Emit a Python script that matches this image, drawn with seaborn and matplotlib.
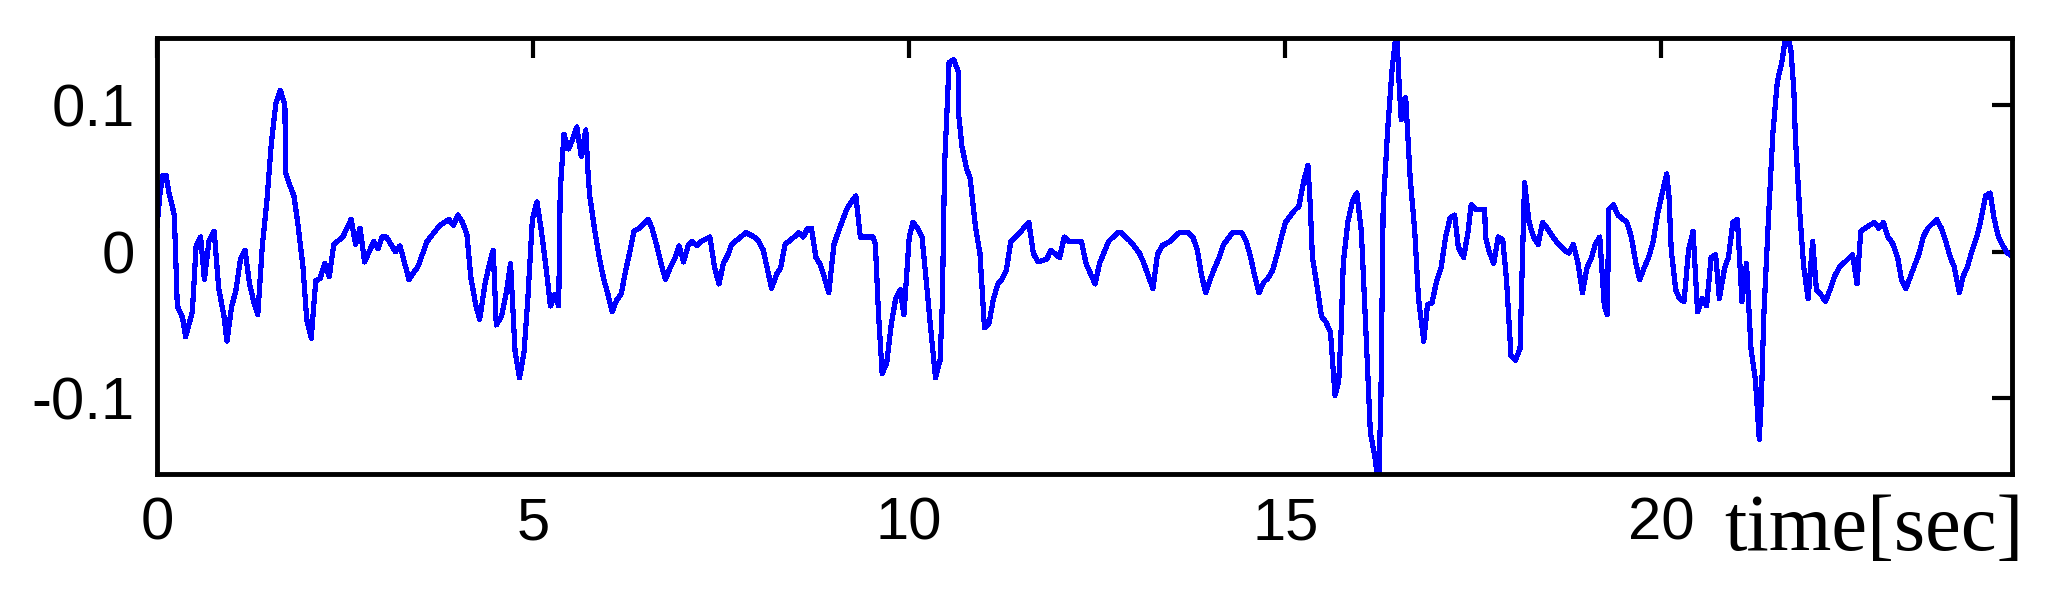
import numpy as np
import pandas as pd
import matplotlib
matplotlib.use("Agg")
import matplotlib.pyplot as plt
import seaborn as sns

# ── Data (time [s], value) ─────────────────────────────────────────────────
t_seg1 = [0.00, 0.04, 0.08, 0.12, 0.16, 0.23, 0.27, 0.34, 0.38, 0.47,
          0.52, 0.58, 0.63, 0.69, 0.76, 0.82, 0.89, 0.93, 0.99, 1.05,
          1.11, 1.17, 1.23, 1.29, 1.34, 1.40, 1.46, 1.52, 1.58, 1.64,
          1.70, 1.71, 1.76, 1.82, 1.87, 1.94, 1.99, 2.05, 2.11, 2.17,
          2.23, 2.29, 2.35, 2.47, 2.58, 2.64, 2.70, 2.76, 2.88, 2.94,
          2.99, 3.05, 3.17, 3.23, 3.35, 3.47, 3.59, 3.76, 3.88, 3.94,
          4.00, 4.06, 4.12, 4.17, 4.24]
v_seg1 = [0.017, 0.040, 0.052, 0.052, 0.040, 0.025, -0.037, -0.045, -0.058, -0.041,
          0.004, 0.010, -0.019, 0.007, 0.014, -0.025, -0.044, -0.061, -0.038, -0.026,
          -0.005, 0.001, -0.022, -0.035, -0.043, 0.004, 0.034, 0.074, 0.101, 0.110,
          0.100, 0.054, 0.046, 0.038, 0.020, -0.010, -0.046, -0.059, -0.020, -0.018,
          -0.008, -0.017, 0.005, 0.010, 0.022, 0.005, 0.016, -0.007, 0.007, 0.002,
          0.010, 0.010, 0.000, 0.004, -0.019, -0.010, 0.007, 0.018, 0.022, 0.018,
          0.025, 0.020, 0.012, -0.017, -0.037]

t_seg2 = [4.29, 4.36, 4.42, 4.47, 4.51, 4.58, 4.65, 4.70, 4.76, 4.82,
          4.88, 4.93, 4.99, 5.05, 5.11, 5.17, 5.23, 5.29, 5.34, 5.36,
          5.41, 5.47, 5.52, 5.58, 5.64, 5.70, 5.73, 5.75, 5.82, 5.88,
          5.94, 5.99, 6.05, 6.11, 6.17, 6.23, 6.29, 6.34, 6.41, 6.53,
          6.58, 6.64, 6.70, 6.76, 6.82, 6.88, 6.94, 7.00, 7.06, 7.11,
          7.18, 7.23, 7.35, 7.41, 7.47, 7.53, 7.59, 7.64, 7.76, 7.83,
          7.94, 8.00, 8.06, 8.12, 8.17, 8.24, 8.29, 8.35, 8.47, 8.53,
          8.59, 8.65]
v_seg2 = [-0.046, -0.022, -0.008, 0.001, -0.050, -0.044, -0.026, -0.008, -0.068, -0.086,
          -0.068, -0.032, 0.022, 0.034, 0.014, -0.010, -0.037, -0.029, -0.037, 0.041,
          0.080, 0.070, 0.076, 0.085, 0.065, 0.083, 0.054, 0.039, 0.014, -0.004,
          -0.019, -0.028, -0.041, -0.033, -0.029, -0.013, 0.001, 0.014, 0.016, 0.022,
          0.016, 0.005, -0.008, -0.019, -0.011, -0.005, 0.004, -0.007, 0.004, 0.007,
          0.004, 0.007, 0.010, -0.010, -0.022, -0.008, -0.002, 0.005, 0.010, 0.013,
          0.010, 0.007, 0.001, -0.013, -0.025, -0.015, -0.011, 0.005, 0.010, 0.013,
          0.010, 0.016]

t_seg3 = [8.70, 8.76, 8.82, 8.88, 8.93, 9.00, 9.06, 9.17, 9.23, 9.29,
          9.35, 9.52, 9.55, 9.59, 9.64, 9.70, 9.76, 9.82, 9.88, 9.93,
          10.00, 10.05, 10.11, 10.17, 10.23, 10.29, 10.35, 10.41, 10.44, 10.47,
          10.53, 10.59, 10.65, 10.66, 10.70, 10.76, 10.81, 10.88, 10.94, 11.00,
          11.06, 11.12, 11.18, 11.23, 11.29, 11.35, 11.47, 11.59, 11.65, 11.71,
          11.83, 11.88, 12.00, 12.06, 12.12, 12.29, 12.35, 12.47, 12.53, 12.65,
          12.77, 12.82, 12.94, 13.06]
v_seg3 = [0.016, -0.004, -0.009, -0.019, -0.028, 0.005, 0.014, 0.029, 0.034, 0.038,
          0.010, 0.010, 0.005, -0.041, -0.083, -0.076, -0.050, -0.032, -0.026, -0.043,
          0.010, 0.020, 0.016, 0.010, -0.022, -0.055, -0.086, -0.074, -0.035, 0.059,
          0.129, 0.131, 0.123, 0.092, 0.072, 0.057, 0.050, 0.017, -0.001, -0.052,
          -0.049, -0.032, -0.022, -0.019, -0.013, 0.007, 0.013, 0.020, -0.001, -0.007,
          -0.005, 0.001, -0.004, 0.010, 0.007, 0.007, -0.008, -0.022, -0.008, 0.007,
          0.013, 0.013, 0.007, -0.001]

t_seg4 = [13.12, 13.18, 13.24, 13.30, 13.36, 13.47, 13.59, 13.71, 13.77, 13.83,
          13.89, 13.94, 14.00, 14.06, 14.12, 14.18, 14.30, 14.42, 14.48, 14.54,
          14.59, 14.65, 14.71, 14.77, 14.83, 14.89, 14.95, 15.00, 15.12, 15.18,
          15.24, 15.30, 15.33, 15.36, 15.42, 15.48, 15.54, 15.60, 15.66, 15.71,
          15.74, 15.77, 15.83, 15.89, 15.95, 16.01, 16.07, 16.13, 16.19, 16.24,
          16.27, 16.30, 16.36, 16.42, 16.48, 16.51, 16.54, 16.60, 16.66, 16.72,
          16.77, 16.84, 16.89, 16.95, 17.01, 17.07, 17.13, 17.19, 17.25, 17.30,
          17.37, 17.43]
v_seg4 = [-0.008, -0.017, -0.025, -0.002, 0.004, 0.007, 0.013, 0.013, 0.010, 0.001,
          -0.017, -0.028, -0.019, -0.011, -0.004, 0.005, 0.013, 0.013, 0.007, -0.004,
          -0.016, -0.028, -0.021, -0.018, -0.013, -0.002, 0.010, 0.020, 0.028, 0.031,
          0.047, 0.059, 0.033, -0.004, -0.023, -0.044, -0.048, -0.055, -0.098, -0.088,
          -0.055, -0.008, 0.020, 0.034, 0.040, 0.014, -0.053, -0.123, -0.140, -0.160,
          -0.101, 0.029, 0.083, 0.125, 0.152, 0.117, 0.090, 0.105, 0.050, 0.014,
          -0.032, -0.061, -0.036, -0.035, -0.020, -0.011, 0.010, 0.023, 0.025, 0.003,
          -0.004, 0.014]

t_seg5 = [17.47, 17.53, 17.65, 17.66, 17.71, 17.77, 17.83, 17.89, 17.94, 18.00,
          18.06, 18.12, 18.15, 18.18, 18.24, 18.30, 18.36, 18.42, 18.48, 18.60,
          18.71, 18.77, 18.83, 18.89, 18.95, 19.01, 19.07, 19.12, 19.18, 19.24,
          19.28, 19.30, 19.36, 19.42, 19.54, 19.60, 19.66, 19.71, 19.77, 19.83,
          19.89, 19.95, 20.01, 20.07, 20.10, 20.13, 20.19, 20.24, 20.30, 20.36,
          20.42, 20.48, 20.54, 20.60, 20.66, 20.72, 20.77, 20.84, 20.89, 20.95,
          21.01, 21.07, 21.13, 21.19, 21.25, 21.30, 21.33, 21.36, 21.42, 21.48,
          21.54, 21.60, 21.66, 21.72, 21.76, 21.78, 21.84]
v_seg5 = [0.032, 0.029, 0.029, 0.010, 0.000, -0.008, 0.010, 0.008, -0.019, -0.071,
          -0.074, -0.066, -0.008, 0.047, 0.020, 0.010, 0.005, 0.020, 0.016, 0.007,
          0.001, -0.001, 0.005, -0.008, -0.028, -0.011, -0.004, 0.005, 0.010, -0.037,
          -0.043, 0.029, 0.032, 0.025, 0.020, 0.010, -0.008, -0.019, -0.011, -0.004,
          0.007, 0.026, 0.040, 0.053, 0.038, 0.001, -0.026, -0.032, -0.034, 0.001,
          0.014, -0.041, -0.032, -0.037, -0.004, -0.002, -0.032, -0.011, -0.004, 0.020,
          0.022, -0.034, -0.008, -0.066, -0.088, -0.128, -0.098, -0.044, 0.020, 0.080,
          0.116, 0.129, 0.150, 0.138, 0.110, 0.078, 0.026]

t_seg6 = [21.89, 21.95, 22.01, 22.06, 22.13, 22.18, 22.24, 22.30, 22.36, 22.42,
          22.54, 22.60, 22.65, 22.71, 22.83, 22.89, 22.95, 23.01, 23.07, 23.14,
          23.19, 23.25, 23.31, 23.36, 23.42, 23.48, 23.54, 23.66, 23.72, 23.78,
          23.84, 23.89, 23.96, 24.01, 24.07, 24.13, 24.19, 24.24, 24.31, 24.37,
          24.42, 24.48, 24.54, 24.60, 24.66]
v_seg6 = [-0.010, -0.032, 0.007, -0.026, -0.030, -0.034, -0.026, -0.017, -0.011, -0.008,
          -0.002, -0.022, 0.014, 0.016, 0.020, 0.016, 0.020, 0.010, 0.006, -0.004,
          -0.019, -0.025, -0.017, -0.010, -0.002, 0.010, 0.016, 0.022, 0.016, 0.007,
          -0.004, -0.010, -0.028, -0.017, -0.010, 0.001, 0.010, 0.020, 0.038, 0.040,
          0.023, 0.010, 0.004, -0.001, -0.003]

x_ticks = [0, 5, 10, 15, 20]
x_tick_labels = ["0", "5", "10", "15", "20"]
y_ticks = [-0.1, 0.0, 0.1]
y_tick_labels = ["-0.1", "0", "0.1"]

df = pd.DataFrame({
    "t": t_seg1 + t_seg2 + t_seg3 + t_seg4 + t_seg5 + t_seg6,
    "v": v_seg1 + v_seg2 + v_seg3 + v_seg4 + v_seg5 + v_seg6,
})

# ── Figure ─────────────────────────────────────────────────────────────────
sns.set_style("white")
plt.rcParams["font.family"] = ["Liberation Sans", "DejaVu Sans"]

W, H = 2056, 607
fig = plt.figure(figsize=(W / 100, H / 100), dpi=100)
ax = fig.add_axes([157 / W, 1 - 474 / H, (2012 - 157) / W, (474 - 38) / H])

sns.lineplot(data=df, x="t", y="v", ax=ax, color="#0000ff", linewidth=3.0,
             estimator=None, sort=False, antialiased=False)

ax.set_xlim(0, 24.66)
ax.set_ylim(-0.1516, 0.1457)

ax.set_xticks(x_ticks)
ax.set_xticklabels(x_tick_labels)
ax.set_yticks(y_ticks)
ax.set_yticklabels(y_tick_labels)

ax.tick_params(direction="in", top=True, right=True, length=14.4, width=3.0,
               color="black", labelsize=43, pad=16, labelcolor="black")

for sp in ax.spines.values():
    sp.set_visible(True)
    sp.set_linewidth(3.5)
    sp.set_color("black")

ax.set_ylabel("")
ax.set_xlabel("time[sec]", fontsize=58,
              family=["Liberation Serif", "DejaVu Serif"],
              ha="right", va="baseline", color="black")
ax.xaxis.set_label_coords(1.006, -0.174)

fig.savefig("out.png", dpi=100)
